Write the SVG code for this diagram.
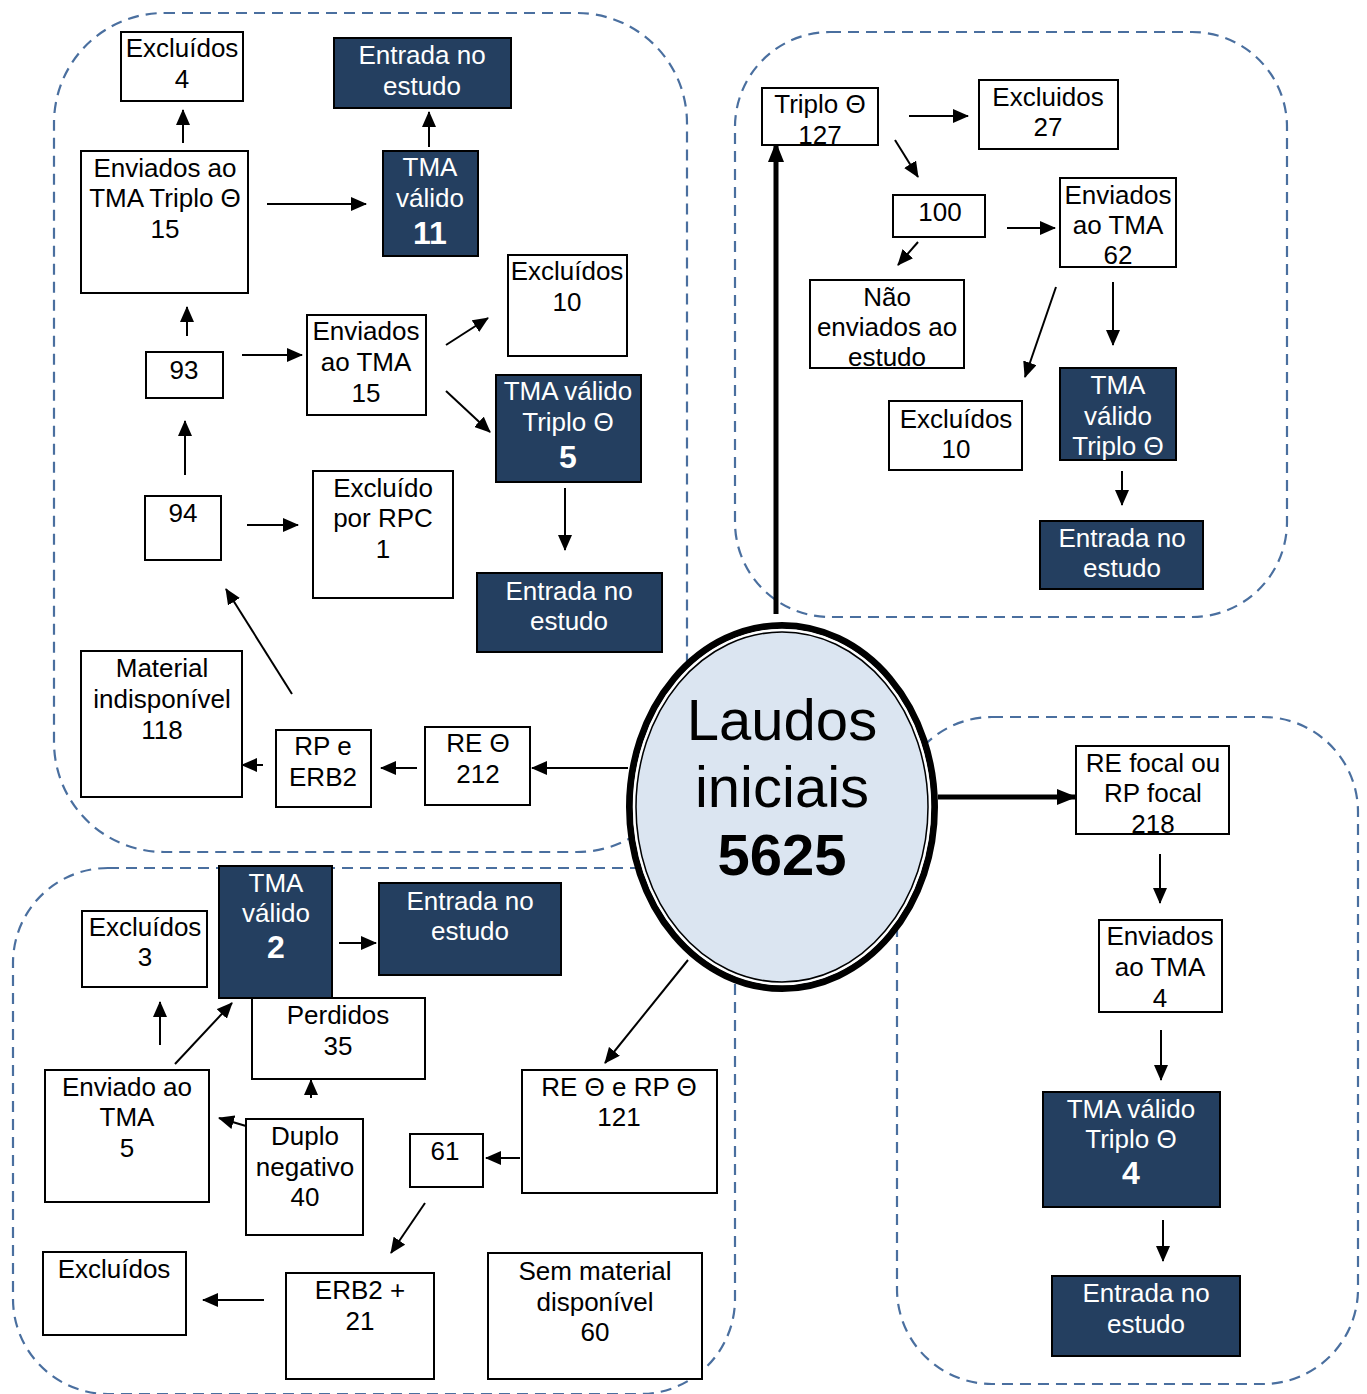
<svg xmlns="http://www.w3.org/2000/svg" width="1367" height="1394" viewBox="0 0 1367 1394">
<defs>
<style>
.grp{fill:none;stroke:#4a6f9f;stroke-width:2.2;stroke-dasharray:11 7}
.box{fill:#fff;stroke:#000;stroke-width:2}
.dk{fill:#243f60;stroke:#000;stroke-width:2}
.t{font-family:"Liberation Sans",Arial,sans-serif;font-size:26px;fill:#000;text-anchor:middle}
.w{fill:#fff}
.b{font-weight:bold;font-size:32px}
.c{stroke:#000;stroke-width:2;fill:none;marker-end:url(#ah)}
.ck{stroke:#000;stroke-width:5;fill:none;marker-end:url(#ahb)}
</style>
<marker id="ah" viewBox="0 0 16 14" refX="15" refY="7" markerWidth="16" markerHeight="14" markerUnits="userSpaceOnUse" orient="auto">
<path d="M0,0 L16,7 L0,14 Z" fill="#000"/>
</marker>
<marker id="ahb" viewBox="0 0 20 16" refX="19" refY="8" markerWidth="20" markerHeight="16" markerUnits="userSpaceOnUse" orient="auto">
<path d="M0,0 L20,8 L0,16 Z" fill="#000"/>
</marker>
</defs>
<rect width="1367" height="1394" fill="#fff"/>

<g id="groups">
<rect class="grp" x="54" y="13" width="633" height="839" rx="110" ry="110"/>
<rect class="grp" x="735" y="32" width="552" height="585" rx="95" ry="95"/>
<rect class="grp" x="897" y="717" width="461" height="667" rx="95" ry="95"/>
<rect class="grp" x="13" y="868" width="722" height="526" rx="95" ry="95"/>
</g>

<g id="connectors">
<line class="c" x1="183" y1="143" x2="183" y2="110"/>
<line class="c" x1="429" y1="147" x2="429" y2="112"/>
<line class="c" x1="267" y1="204" x2="366" y2="204"/>
<line class="c" x1="187" y1="336" x2="187" y2="307"/>
<line class="c" x1="242" y1="355" x2="302" y2="355"/>
<line class="c" x1="446" y1="345" x2="488" y2="318"/>
<line class="c" x1="446" y1="391" x2="490" y2="432"/>
<line class="c" x1="185" y1="475" x2="185" y2="421"/>
<line class="c" x1="247" y1="525" x2="298" y2="525"/>
<line class="c" x1="565" y1="488" x2="565" y2="550"/>
<line class="c" x1="292" y1="694" x2="226" y2="589"/>
<line class="c" x1="263" y1="765" x2="242" y2="765"/>
<line class="c" x1="417" y1="768" x2="381" y2="768"/>
<line class="c" x1="628" y1="768" x2="532" y2="768"/>

<line class="ck" x1="776" y1="614" x2="776" y2="143"/>
<line class="c" x1="909" y1="116" x2="968" y2="116"/>
<line class="c" x1="895" y1="140" x2="918" y2="177"/>
<line class="c" x1="1007" y1="228" x2="1055" y2="228"/>
<line class="c" x1="918" y1="242" x2="898" y2="265"/>
<line class="c" x1="1056" y1="287" x2="1025" y2="377"/>
<line class="c" x1="1113" y1="282" x2="1113" y2="345"/>
<line class="c" x1="1122" y1="471" x2="1122" y2="505"/>

<line class="ck" x1="938" y1="797" x2="1076" y2="797"/>
<line class="c" x1="1160" y1="854" x2="1160" y2="903"/>
<line class="c" x1="1161" y1="1030" x2="1161" y2="1080"/>
<line class="c" x1="1163" y1="1220" x2="1163" y2="1261"/>

<line class="c" x1="339" y1="943" x2="376" y2="943"/>
<line class="c" x1="160" y1="1045" x2="160" y2="1002"/>
<line class="c" x1="175" y1="1064" x2="232" y2="1003"/>
<line class="c" x1="311" y1="1098" x2="311" y2="1080"/>
<line class="c" x1="246" y1="1126" x2="219" y2="1118"/>
<line class="c" x1="688" y1="960" x2="605" y2="1063"/>
<line class="c" x1="520" y1="1158" x2="486" y2="1158"/>
<line class="c" x1="425" y1="1203" x2="391" y2="1253"/>
<line class="c" x1="264" y1="1300" x2="203" y2="1300"/>
</g>

<g id="n-laudos">
<ellipse cx="782" cy="807" rx="152.5" ry="181.5" fill="#dbe5f1" stroke="#000" stroke-width="7"/>
<ellipse cx="782" cy="807" rx="148" ry="177" fill="none" stroke="#fff" stroke-width="2.5"/>
<ellipse cx="782" cy="807" rx="146" ry="175" fill="none" stroke="#000" stroke-width="1.5"/>
<text class="t" x="782" y="740" style="font-size:58px">Laudos</text>
<text class="t" x="782" y="807" style="font-size:58px">iniciais</text>
<text class="t" x="782" y="875" style="font-size:58px;font-weight:bold">5625</text>
</g>

<!-- top-left -->
<g id="n-excl4"><rect class="box" x="121" y="32" width="122" height="69"/>
<text class="t" x="182" y="57">Excluídos</text><text class="t" x="182" y="88">4</text></g>
<g id="n-entrada1"><rect class="dk" x="334" y="38" width="177" height="70"/>
<text class="t w" x="422" y="64">Entrada no</text><text class="t w" x="422" y="95">estudo</text></g>
<g id="n-enviados15a"><rect class="box" x="81" y="151" width="167" height="142"/>
<text class="t" x="165" y="177">Enviados ao</text><text class="t" x="165" y="207">TMA Triplo Θ</text><text class="t" x="165" y="238">15</text></g>
<g id="n-tma11"><rect class="dk" x="383" y="151" width="95" height="105"/>
<text class="t w" x="430" y="176">TMA</text><text class="t w" x="430" y="207">válido</text><text class="t w b" x="430" y="244">11</text></g>
<g id="n-excl10a"><rect class="box" x="508" y="255" width="119" height="101"/>
<text class="t" x="567" y="280">Excluídos</text><text class="t" x="567" y="311">10</text></g>
<g id="n-93"><rect class="box" x="146" y="352" width="77" height="46"/>
<text class="t" x="184" y="379">93</text></g>
<g id="n-enviados15b"><rect class="box" x="307" y="315" width="119" height="100"/>
<text class="t" x="366" y="340">Enviados</text><text class="t" x="366" y="371">ao TMA</text><text class="t" x="366" y="402">15</text></g>
<g id="n-tma5"><rect class="dk" x="496" y="375" width="145" height="107"/>
<text class="t w" x="568" y="400">TMA válido</text><text class="t w" x="568" y="431">Triplo Θ</text><text class="t w b" x="568" y="468">5</text></g>
<g id="n-94"><rect class="box" x="145" y="496" width="76" height="64"/>
<text class="t" x="183" y="522">94</text></g>
<g id="n-rpc"><rect class="box" x="313" y="471" width="140" height="127"/>
<text class="t" x="383" y="497">Excluído</text><text class="t" x="383" y="527">por RPC</text><text class="t" x="383" y="558">1</text></g>
<g id="n-entrada2"><rect class="dk" x="477" y="573" width="185" height="79"/>
<text class="t w" x="569" y="600">Entrada no</text><text class="t w" x="569" y="630">estudo</text></g>
<g id="n-material"><rect class="box" x="81" y="651" width="161" height="146"/>
<text class="t" x="162" y="677">Material</text><text class="t" x="162" y="708">indisponível</text><text class="t" x="162" y="739">118</text></g>
<g id="n-rperb2"><rect class="box" x="276" y="730" width="95" height="77"/>
<text class="t" x="323" y="755">RP e</text><text class="t" x="323" y="786">ERB2</text></g>
<g id="n-re212"><rect class="box" x="425" y="727" width="105" height="78"/>
<text class="t" x="478" y="752">RE Θ</text><text class="t" x="478" y="783">212</text></g>

<!-- top-right -->
<g id="n-triplo127"><rect class="box" x="762" y="88" width="116" height="57"/>
<text class="t" x="820" y="113">Triplo Θ</text><text class="t" x="820" y="144">127</text></g>
<g id="n-excl27"><rect class="box" x="979" y="80" width="139" height="69"/>
<text class="t" x="1048" y="106">Excluidos</text><text class="t" x="1048" y="136">27</text></g>
<g id="n-100"><rect class="box" x="893" y="195" width="92" height="42"/>
<text class="t" x="940" y="221">100</text></g>
<g id="n-enviados62"><rect class="box" x="1060" y="178" width="116" height="89"/>
<text class="t" x="1118" y="204">Enviados</text><text class="t" x="1118" y="234">ao TMA</text><text class="t" x="1118" y="264">62</text></g>
<g id="n-nao"><rect class="box" x="810" y="280" width="154" height="88"/>
<text class="t" x="887" y="306">Não</text><text class="t" x="887" y="336">enviados ao</text><text class="t" x="887" y="366">estudo</text></g>
<g id="n-excl10b"><rect class="box" x="889" y="401" width="133" height="69"/>
<text class="t" x="956" y="428">Excluídos</text><text class="t" x="956" y="458">10</text></g>
<g id="n-tmatr"><rect class="dk" x="1060" y="368" width="116" height="92"/>
<text class="t w" x="1118" y="394">TMA</text><text class="t w" x="1118" y="425">válido</text><text class="t w" x="1118" y="455">Triplo Θ</text></g>
<g id="n-entrada3"><rect class="dk" x="1040" y="521" width="163" height="68"/>
<text class="t w" x="1122" y="547">Entrada no</text><text class="t w" x="1122" y="577">estudo</text></g>

<!-- bottom-right -->
<g id="n-focal"><rect class="box" x="1076" y="746" width="153" height="88"/>
<text class="t" x="1153" y="772">RE focal ou</text><text class="t" x="1153" y="802">RP focal</text><text class="t" x="1153" y="833">218</text></g>
<g id="n-enviados4"><rect class="box" x="1099" y="920" width="123" height="92"/>
<text class="t" x="1160" y="945">Enviados</text><text class="t" x="1160" y="976">ao TMA</text><text class="t" x="1160" y="1007">4</text></g>
<g id="n-tma4"><rect class="dk" x="1043" y="1092" width="177" height="115"/>
<text class="t w" x="1131" y="1118">TMA válido</text><text class="t w" x="1131" y="1148">Triplo Θ</text><text class="t w b" x="1131" y="1184">4</text></g>
<g id="n-entrada4"><rect class="dk" x="1052" y="1276" width="188" height="80"/>
<text class="t w" x="1146" y="1302">Entrada no</text><text class="t w" x="1146" y="1333">estudo</text></g>

<!-- bottom-left -->
<g id="n-tma2"><rect class="dk" x="219" y="866" width="113" height="132"/>
<text class="t w" x="276" y="892">TMA</text><text class="t w" x="276" y="922">válido</text><text class="t w b" x="276" y="958">2</text></g>
<g id="n-entrada5"><rect class="dk" x="379" y="883" width="182" height="92"/>
<text class="t w" x="470" y="910">Entrada no</text><text class="t w" x="470" y="940">estudo</text></g>
<g id="n-excl3"><rect class="box" x="82" y="911" width="125" height="76"/>
<text class="t" x="145" y="936">Excluídos</text><text class="t" x="145" y="966">3</text></g>
<g id="n-perdidos"><rect class="box" x="252" y="998" width="173" height="81"/>
<text class="t" x="338" y="1024">Perdidos</text><text class="t" x="338" y="1055">35</text></g>
<g id="n-enviado5"><rect class="box" x="45" y="1070" width="164" height="132"/>
<text class="t" x="127" y="1096">Enviado ao</text><text class="t" x="127" y="1126">TMA</text><text class="t" x="127" y="1157">5</text></g>
<g id="n-duplo"><rect class="box" x="246" y="1119" width="117" height="116"/>
<text class="t" x="305" y="1145">Duplo</text><text class="t" x="305" y="1176">negativo</text><text class="t" x="305" y="1206">40</text></g>
<g id="n-61"><rect class="box" x="410" y="1134" width="73" height="53"/>
<text class="t" x="445" y="1160">61</text></g>
<g id="n-rerp121"><rect class="box" x="522" y="1070" width="195" height="123"/>
<text class="t" x="619" y="1096">RE Θ e RP Θ</text><text class="t" x="619" y="1126">121</text></g>
<g id="n-excl"><rect class="box" x="43" y="1252" width="143" height="83"/>
<text class="t" x="114" y="1278">Excluídos</text></g>
<g id="n-erb2"><rect class="box" x="286" y="1273" width="148" height="106"/>
<text class="t" x="360" y="1299">ERB2 +</text><text class="t" x="360" y="1330">21</text></g>
<g id="n-sem"><rect class="box" x="488" y="1253" width="214" height="126"/>
<text class="t" x="595" y="1280">Sem material</text><text class="t" x="595" y="1311">disponível</text><text class="t" x="595" y="1341">60</text></g>
</svg>
